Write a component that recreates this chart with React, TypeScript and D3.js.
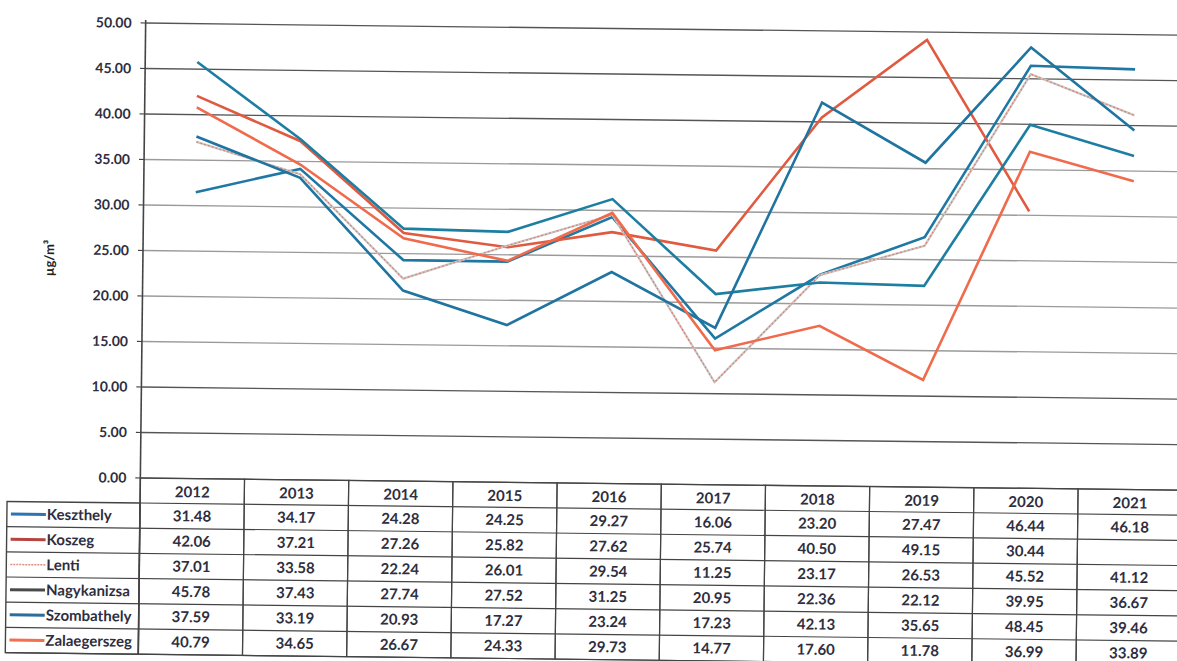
import React from "react";
import * as d3 from "d3";

const years = ["2012", "2013", "2014", "2015", "2016", "2017", "2018", "2019", "2020", "2021"];
const seriesNames = ["Keszthely", "Koszeg", "Lenti", "Nagykanizsa", "Szombathely", "Zalaegerszeg"];
const keszthely = [31.48, 34.17, 24.28, 24.25, 29.27, 16.06, 23.2, 27.47, 46.44, 46.18];
const koszeg = [42.06, 37.21, 27.26, 25.82, 27.62, 25.74, 40.5, 49.15, 30.44, null];
const lenti = [37.01, 33.58, 22.24, 26.01, 29.54, 11.25, 23.17, 26.53, 45.52, 41.12];
const nagykanizsa = [45.78, 37.43, 27.74, 27.52, 31.25, 20.95, 22.36, 22.12, 39.95, 36.67];
const szombathely = [37.59, 33.19, 20.93, 17.27, 23.24, 17.23, 42.13, 35.65, 48.45, 39.46];
const zalaegerszeg = [40.79, 34.65, 26.67, 24.33, 29.73, 14.77, 17.6, 11.78, 36.99, 33.89];
const yTicks = [0, 5, 10, 15, 20, 25, 30, 35, 40, 45, 50];

const seriesValues = [keszthely, koszeg, lenti, nagykanizsa, szombathely, zalaegerszeg];
const lineColors = ["#1f78a4", "#e05a40", "#c8b4b0", "#1d7ea2", "#1f74a0", "#f06a4c"];
const keyColors = ["#2e74b5", "#b5453f", "#e08c80", "#4a4a4a", "#2a6e9c", "#f07050"];

export default function App() {
  const W = 1177, H = 661;
  const x0 = 143;
  const x = d3.scaleBand<string>().domain(years).range([x0, x0 + 104.2 * 10]);
  const y = d3.scaleLinear().domain([0, 50]).range([478, 23]);
  const line = d3
    .line<number | null>()
    .defined((d) => d !== null)
    .x((_, i) => (x(years[i]) as number) + x.bandwidth() / 2)
    .y((d) => y(d as number));

  const headerTop = y(0);
  const headerBottom = 503;
  const rowH = 25.2;
  const tableBottom = headerBottom + rowH * seriesNames.length;
  const font = "Lato, 'Open Sans', sans-serif";
  const textColor = "#2e2e3e";

  return (
    <svg width={W} height={H} style={{ position: "absolute", left: 0, top: 0, background: "#fff" }}>
      <rect x={0} y={0} width={W} height={H} fill="#fff" />
      <g transform={`rotate(0.67 ${x0} 250)`}>
        {/* gridlines */}
        {yTicks.map((t) => (
          <line
            key={"g" + t}
            x1={x0}
            x2={x0 + 1060}
            y1={y(t)}
            y2={y(t)}
            stroke={t >= 15 && t <= 35 ? "#9a9a9a" : "#555"}
            strokeWidth={1.3}
          />
        ))}
        {/* y tick labels */}
        {yTicks.map((t) => (
          <g key={"t" + t}>
            <line x1={x0 - 5} x2={x0} y1={y(t)} y2={y(t)} stroke="#444" strokeWidth={1.2} />
            <text
              x={x0 - 14}
              y={y(t)}
              dy="0.35em"
              textAnchor="end"
              fontFamily={font}
              fontWeight="bold"
              fontSize={14}
              fill={textColor}
            >
              {t.toFixed(2)}
            </text>
          </g>
        ))}
        <text
          transform={`translate(54, 259) rotate(-90)`}
          textAnchor="middle"
          fontFamily={font}
          fontWeight="bold"
          fontSize={13}
          fill="#222"
        >
          µg/m³
        </text>
        {/* axis line */}
        <line x1={x0} x2={x0} y1={20} y2={tableBottom} stroke="#444" strokeWidth={1.6} />

        {/* lines */}
        {seriesValues.map((vals, si) =>
          si === 2 ? (
            <g key={"l" + si}>
              <path d={line(vals) || ""} fill="none" stroke="#c9c9c9" strokeWidth={2.2} />
              <path d={line(vals) || ""} fill="none" stroke="#e0806e" strokeWidth={1.2} strokeDasharray="2,2" />
            </g>
          ) : (
            <path
              key={"l" + si}
              d={line(vals) || ""}
              fill="none"
              stroke={lineColors[si]}
              strokeWidth={2.6}
              strokeLinejoin="miter"
            />
          )
        )}

        {/* table */}
        <g fontFamily={font} fontWeight="bold" fill={textColor}>
          {years.map((yr) => (
            <g key={"h" + yr}>
              <rect
                x={x(yr) as number}
                y={headerTop}
                width={x.bandwidth()}
                height={tableBottom - headerTop}
                fill="none"
                stroke="#444"
                strokeWidth={1.2}
              />
              <text
                x={(x(yr) as number) + x.bandwidth() / 2}
                y={(headerTop + headerBottom) / 2 + 1}
                dy="0.35em"
                textAnchor="middle"
                fontSize={15}
              >
                {yr}
              </text>
            </g>
          ))}
          <line x1={x0} x2={x0 + 1060} y1={headerBottom} y2={headerBottom} stroke="#444" strokeWidth={1.2} />
          <rect x={10} y={headerBottom} width={x0 - 10} height={tableBottom - headerBottom} fill="none" stroke="#444" strokeWidth={1.4} />
          {seriesNames.map((name, si) => {
            const top = headerBottom + rowH * si;
            const cy = top + rowH / 2;
            return (
              <g key={"r" + name}>
                <line x1={10} x2={x0 + 1060} y1={top + rowH} y2={top + rowH} stroke="#444" strokeWidth={1.2} />
                <line
                  x1={14}
                  x2={49}
                  y1={cy}
                  y2={cy}
                  stroke={keyColors[si]}
                  strokeWidth={si === 2 ? 1.5 : 3}
                  strokeDasharray={si === 2 ? "2,1" : undefined}
                />
                <text x={50} y={cy} dy="0.35em" fontSize={15}>
                  {name}
                </text>
                {seriesValues[si].map((v, i) =>
                  v === null ? null : (
                    <text
                      key={"v" + i}
                      x={(x(years[i]) as number) + x.bandwidth() / 2}
                      y={cy}
                      dy="0.35em"
                      textAnchor="middle"
                      fontSize={15}
                    >
                      {v.toFixed(2)}
                    </text>
                  )
                )}
              </g>
            );
          })}
        </g>
      </g>
    </svg>
  );
}
